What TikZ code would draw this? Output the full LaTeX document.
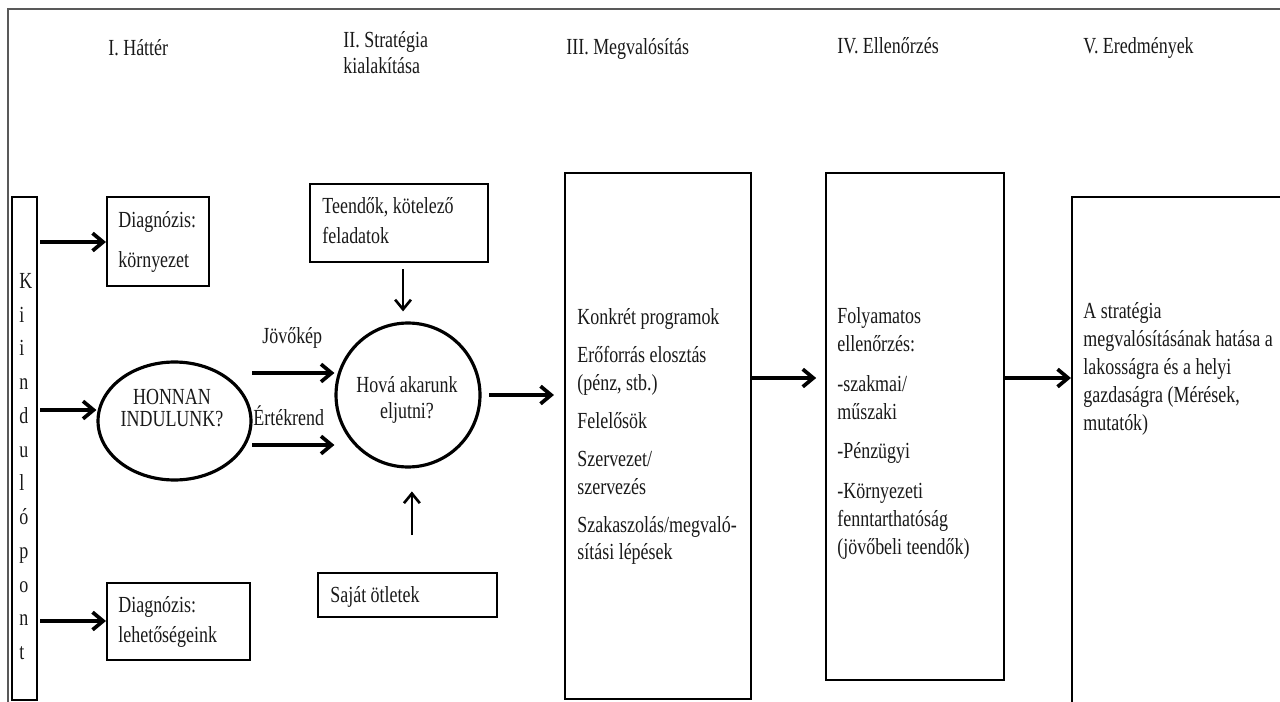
\documentclass[tikz,border=0pt]{standalone}
\usepackage{fontspec}
\setmainfont[FakeStretch=0.78]{Liberation Serif}
\usetikzlibrary{arrows.meta}
\usetikzlibrary{shapes.geometric}

\newcommand{\diafont}{\fontsize{13.1}{15.9}\selectfont}

\begin{document}
\begin{tikzpicture}[x=0.02cm, y=-0.02cm,
    every node/.style={font=\diafont, text=black!90},
    box/.style={draw, line width=1.2pt, inner sep=0pt},
    txt/.style={anchor=north west, inner sep=0pt, align=left},
    head/.style={anchor=base west, inner sep=0pt},
    arr/.style={line width=2.1pt, -{Straight Barb[length=6pt,width=10pt]}},
    varr/.style={line width=1.5pt, -{Straight Barb[length=5.5pt,width=9pt]}}]

    \useasboundingbox (0,0) rectangle (1280,702);
    \fill[white] (0,0) rectangle (1280,702);
    \draw[black!65, line width=0.9pt] (1290,9) -- (8,9) -- (8,712);

    % column heads
    \node[head] (h1) at (108,56) {I. Háttér};
    \node[txt, font={\fontsize{13.1}{14.8}\selectfont}] (h2) at (343,31) {II. Stratégia\\kialakítása};
    \node[head] (h3) at (566,55) {III. Megvalósítás};
    \node[head] (h4) at (837,54) {IV. Ellenőrzés};
    \node[head] (h5) at (1083,54) {V. Eredmények};

    % I.
    \node[box, minimum width=0.5cm, minimum height=10.06cm] (k) at (24.5,448.5) {};
    \node[txt, font={\fontsize{13.1}{19.2}\selectfont}] (kt) at (19,273) {K\\i\\i\\n\\d\\u\\l\\ó\\p\\o\\n\\t};

    \node[box, minimum width=2.04cm, minimum height=1.78cm] (d1) at (158,241.5) {};
    \node[txt, font={\fontsize{13.1}{22.8}\selectfont}] (d1t) at (118,211) {Diagnózis:\\környezet};

    \node[draw, ellipse, line width=1.8pt, inner sep=0pt, minimum width=3.06cm, minimum height=2.36cm] (honnan) at (174.5,421) {};
    \node[anchor=north, inner sep=0pt, align=center, font={\fontsize{13.1}{12.5}\selectfont}] (honnant) at (172,389) {HONNAN\\INDULUNK?};

    \node[box, minimum width=2.86cm, minimum height=1.54cm] (d2) at (178.5,621.5) {};
    \node[txt, font={\fontsize{13.1}{17.1}\selectfont}] (d2t) at (118,596) {Diagnózis:\\lehetőségeink};

    \coordinate (s1) at (40,242);
    \coordinate (s2) at (40,410);
    \coordinate (s3) at (40,621);
    \draw[arr] (s1) -- (s1 -| d1.west);
    \draw[arr] (s2) -- (s2 -| honnan.west);
    \draw[arr] (s3) -- (s3 -| d2.west);

    % II.
    \node[box, minimum width=3.56cm, minimum height=1.56cm] (teendok) at (399,223) {};
    \node[txt, font={\fontsize{13.1}{17.1}\selectfont}] (teendokt) at (322,197) {Teendők, kötelező\\feladatok};

    \node[draw, circle, line width=1.8pt, inner sep=0pt, minimum size=2.88cm] (hova) at (408,395) {};
    \node[anchor=north, inner sep=0pt, align=center, font={\fontsize{13.1}{14.8}\selectfont}] (hovat) at (407,376) {Hová akarunk\\eljutni?};

    \node[box, minimum width=3.58cm, minimum height=0.88cm] (sajat) at (407.5,595) {};
    \node[head] (sajatt) at (330,602) {Saját ötletek};

    \node[head] (jovo) at (262,343) {Jövőkép};
    \node[head] (ertek) at (253,425) {Értékrend};

    \coordinate (j1) at (252,373);
    \coordinate (j2) at (252,445);
    \draw[arr] (j1) -- (j1 -| hova.west);
    \draw[arr] (j2) -- (j2 -| hova.west);

    \draw[varr, shorten <=3.4pt, shorten >=5.7pt] ([xshift=2.3pt]teendok.south) -- ([xshift=2.3pt]teendok.south |- hova.north);
    \draw[varr, shorten <=21pt, shorten >=13pt] ([xshift=2.5pt]sajat.north) -- ([xshift=2.5pt]sajat.north |- hova.south);

    % III.
    \node[box, minimum width=3.72cm, minimum height=10.52cm] (megv) at (658,436) {};
    \node[txt] (megvt) at (577,308) {Konkrét programok\\[5.7pt]
        Erőforrás elosztás\\(pénz, stb.)\\[5.7pt]
        Felelősök\\[5.7pt]
        Szervezet/\\szervezés\\[5.7pt]
        Szakaszolás/megvaló-\\sítási lépések};

    \draw[arr, shorten <=4.5pt, shorten >=5.7pt] (hova.east) -- (hova.east -| megv.west);

    % IV.
    \node[box, minimum width=3.56cm, minimum height=10.14cm] (ell) at (915,426.5) {};
    \node[txt] (ellt) at (837,307) {Folyamatos\\ellenőrzés:\\[6.8pt]
        -szakmai/\\műszaki\\[6.8pt]
        -Pénzügyi\\[6.8pt]
        -Környezeti\\fenntarthatóság\\(jövőbeli teendők)};

    % V.
    \node[box, minimum width=4.56cm, minimum height=10.46cm] (ered) at (1186,458.5) {};
    \node[txt] (eredt) at (1083,302) {A stratégia\\megvalósításának hatása a\\lakosságra és a helyi\\gazdaságra (Mérések,\\mutatók)};

    \coordinate (r1) at (0,378);
    \draw[arr, shorten >=5pt] (megv.east |- r1) -- (ell.west |- r1);
    \draw[arr] (ell.east |- r1) -- (ered.west |- r1);
\end{tikzpicture}
\end{document}
